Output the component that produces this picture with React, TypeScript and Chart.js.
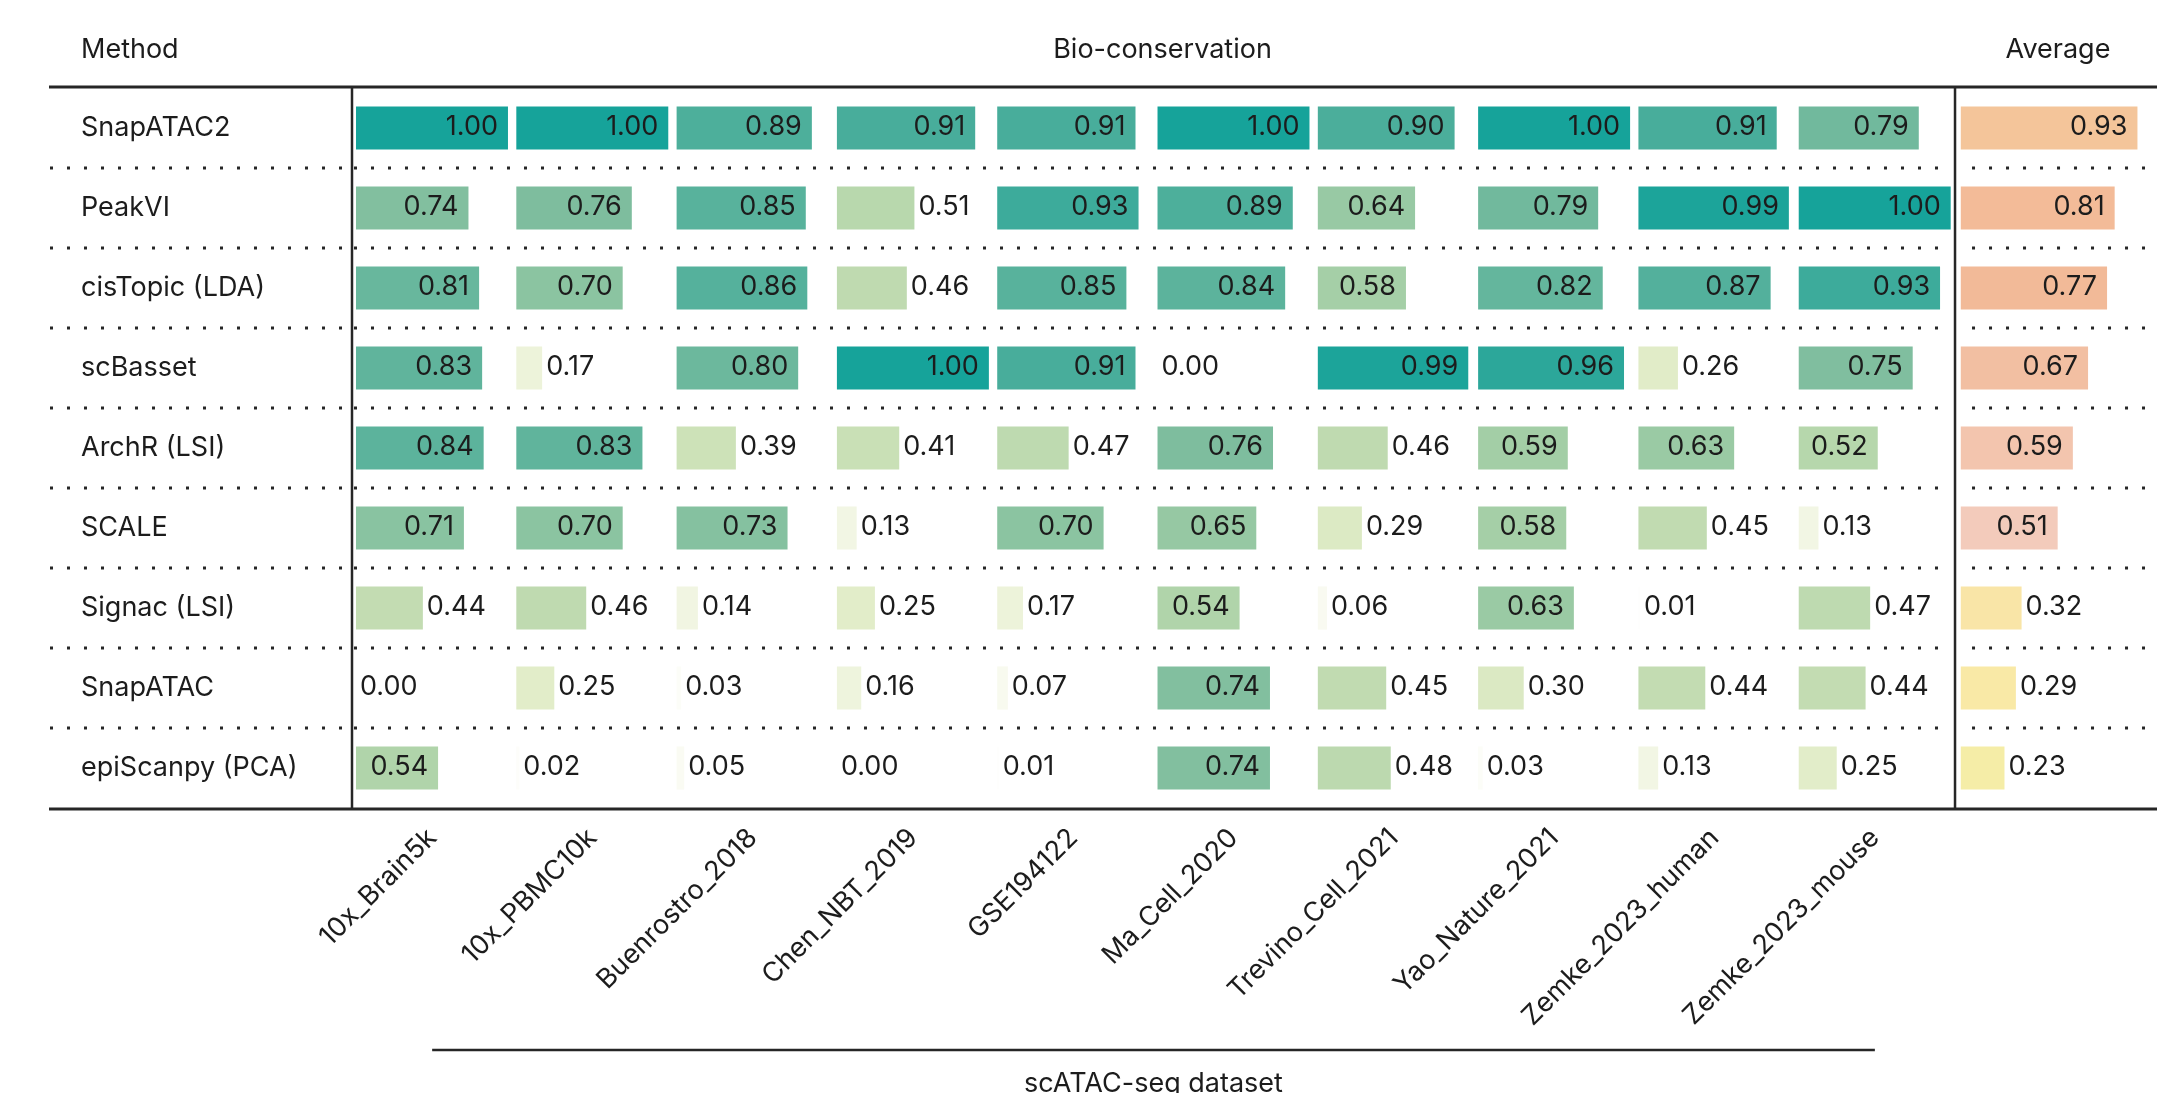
import { useEffect, useRef } from 'react';
import { Chart, registerables } from 'chart.js';

Chart.register(...registerables);

const methods = [
  'SnapATAC2', 'PeakVI', 'cisTopic (LDA)', 'scBasset', 'ArchR (LSI)',
  'SCALE', 'Signac (LSI)', 'SnapATAC', 'epiScanpy (PCA)',
];

const datasetNames = [
  '10x_Brain5k', '10x_PBMC10k', 'Buenrostro_2018', 'Chen_NBT_2019', 'GSE194122',
  'Ma_Cell_2020', 'Trevino_Cell_2021', 'Yao_Nature_2021', 'Zemke_2023_human', 'Zemke_2023_mouse',
];

// bio-conservation score per dataset, rows in the same order as methods
const brain5k = [1.0, 0.74, 0.81, 0.83, 0.84, 0.71, 0.44, 0.0, 0.54];
const pbmc10k = [1.0, 0.76, 0.7, 0.17, 0.83, 0.7, 0.46, 0.25, 0.02];
const buenrostro = [0.89, 0.85, 0.86, 0.8, 0.39, 0.73, 0.14, 0.03, 0.05];
const chenNbt = [0.91, 0.51, 0.46, 1.0, 0.41, 0.13, 0.25, 0.16, 0.0];
const gse194122 = [0.91, 0.93, 0.85, 0.91, 0.47, 0.7, 0.17, 0.07, 0.01];
const maCell = [1.0, 0.89, 0.84, 0.0, 0.76, 0.65, 0.54, 0.74, 0.74];
const trevino = [0.9, 0.64, 0.58, 0.99, 0.46, 0.29, 0.06, 0.45, 0.48];
const yaoNature = [1.0, 0.79, 0.82, 0.96, 0.59, 0.58, 0.63, 0.3, 0.03];
const zemkeHuman = [0.91, 0.99, 0.87, 0.26, 0.63, 0.45, 0.01, 0.44, 0.13];
const zemkeMouse = [0.79, 1.0, 0.93, 0.75, 0.52, 0.13, 0.47, 0.44, 0.25];
const average = [0.93, 0.81, 0.77, 0.67, 0.59, 0.51, 0.32, 0.29, 0.23];

const bioColumns = [
  brain5k, pbmc10k, buenrostro, chenNbt, gse194122,
  maCell, trevino, yaoNature, zemkeHuman, zemkeMouse,
];

// colour ramps (score -> colour)
const bioStops: [number, string][] = [
  [0.0, '#ffffff'], [0.05, '#fafbf3'], [0.13, '#f2f6e4'], [0.17, '#edf3da'],
  [0.25, '#e2edc9'], [0.39, '#cde2b8'], [0.45, '#c1dbb1'], [0.52, '#b6d7ac'],
  [0.58, '#a5cfa7'], [0.65, '#96c8a3'], [0.7, '#8bc4a1'], [0.76, '#7ebd9e'],
  [0.8, '#6cb89d'], [0.85, '#58b29c'], [0.91, '#48ad9b'], [1.0, '#16a39a'],
];
const avgStops: [number, string][] = [
  [0.2, '#f3eea6'], [0.25, '#f6eda7'], [0.3, '#fae8a6'], [0.35, '#f8e0a9'],
  [0.45, '#f4d2b5'], [0.51, '#f3cbbb'], [0.59, '#f3c5ae'], [0.67, '#f2bfa2'],
  [0.77, '#f2ba98'], [0.81, '#f3bb98'], [0.93, '#f4c59a'], [1.0, '#f4c99b'],
];

const FONT = 'Inter';
const INK = '#1c1c1c';
const RULE = '#262626';

// x scale is in "dataset column" units; the average column is a bit wider
const AVG_SPAN = 1.26;
const BAR_PAD = 0.025;
const BAR_FULL = 0.948;
const AVG_PAD = 0.036;
const AVG_FULL = 1.185;

function hexRgb(h: string) {
  const n = parseInt(h.slice(1), 16);
  return [(n >> 16) & 255, (n >> 8) & 255, n & 255];
}

function ramp(stops: [number, string][], v: number) {
  if (v <= stops[0][0]) return stops[0][1];
  for (let i = 1; i < stops.length; i++) {
    const [v1, c1] = stops[i];
    if (v <= v1) {
      const [v0, c0] = stops[i - 1];
      const t = (v - v0) / (v1 - v0);
      const a = hexRgb(c0), b = hexRgb(c1);
      const c = a.map((x, k) => Math.round(x + (b[k] - x) * t));
      return `rgb(${c[0]},${c[1]},${c[2]})`;
    }
  }
  return stops[stops.length - 1][1];
}

const scores = [...bioColumns, average];

const tablePlugin = {
  id: 'tableDecor',
  beforeDatasetsDraw(chart: any) {
    const { ctx, chartArea, scales } = chart;
    const { x, y } = scales;
    const avgLeft = x.getPixelForValue(10);
    ctx.save();
    ctx.strokeStyle = RULE;
    ctx.lineWidth = 3;
    ctx.setLineDash([3, 14]);
    const segs = [[50, chartArea.left - 10], [chartArea.left + 2, avgLeft - 8], [avgLeft + 17, 2145]];
    for (let r = 0; r < methods.length - 1; r++) {
      const yy = Math.round((y.getPixelForValue(r) + y.getPixelForValue(r + 1)) / 2);
      for (const [a, b] of segs) {
        ctx.beginPath();
        ctx.moveTo(a, yy);
        ctx.lineTo(b, yy);
        ctx.stroke();
      }
    }
    ctx.restore();
  },
  afterDatasetsDraw(chart: any) {
    const { ctx, chartArea, scales } = chart;
    const { x } = scales;
    ctx.save();
    ctx.font = `27px ${FONT}`;
    ctx.fillStyle = INK;
    ctx.textBaseline = 'alphabetic';
    chart.data.datasets.forEach((_: any, d: number) => {
      const meta = chart.getDatasetMeta(d);
      meta.data.forEach((el: any, r: number) => {
        const v = scores[d][r];
        const w = el.x - el.base;
        const txt = v.toFixed(2);
        if (w >= 78) {
          ctx.textAlign = 'right';
          ctx.fillText(txt, el.x - 10, el.y + 6.5);
        } else {
          ctx.textAlign = 'left';
          ctx.fillText(txt, el.x + 4, el.y + 6.5);
        }
      });
    });

    // table rules
    const avgLeft = x.getPixelForValue(10);
    ctx.strokeStyle = RULE;
    ctx.lineWidth = 3;
    ctx.beginPath();
    ctx.moveTo(49, chartArea.top - 1);
    ctx.lineTo(chartArea.right, chartArea.top - 1);
    ctx.moveTo(49, chartArea.bottom + 1);
    ctx.lineTo(chartArea.right, chartArea.bottom + 1);
    ctx.stroke();
    ctx.lineWidth = 2.5;
    ctx.beginPath();
    ctx.moveTo(chartArea.left, chartArea.top);
    ctx.lineTo(chartArea.left, chartArea.bottom);
    ctx.moveTo(avgLeft, chartArea.top);
    ctx.lineTo(avgLeft, chartArea.bottom);
    ctx.stroke();

    // header row
    ctx.textAlign = 'left';
    ctx.fillText('Method', 81, 58);
    ctx.textAlign = 'center';
    ctx.fillText('Bio-conservation', (chartArea.left + avgLeft) / 2 + 9, 58);
    ctx.fillText('Average', (avgLeft + chartArea.right) / 2 + 2, 58);

    // dataset bracket and title
    const x0 = x.getPixelForValue(0.5);
    const x1 = x.getPixelForValue(9.5);
    ctx.lineWidth = 2.5;
    ctx.beginPath();
    ctx.moveTo(x0, 1050);
    ctx.lineTo(x1, 1050);
    ctx.stroke();
    ctx.fillText('scATAC-seq dataset', (x0 + x1) / 2, 1092);
    ctx.restore();
  },
};

export default function App() {
  const ref = useRef<HTMLCanvasElement>(null);
  const chartRef = useRef<Chart | null>(null);

  useEffect(() => {
    if (!ref.current) return;

    const sets: any[] = bioColumns.map((vals, i) => ({
      label: datasetNames[i],
      data: vals.map((v) => [i + BAR_PAD, i + BAR_PAD + v * BAR_FULL]),
      backgroundColor: vals.map((v) => ramp(bioStops, v)),
    }));
    sets.push({
      label: 'Average',
      data: average.map((v) => [10 + AVG_PAD, 10 + AVG_PAD + v * AVG_FULL]),
      backgroundColor: average.map((v) => ramp(avgStops, v)),
    });

    chartRef.current?.destroy();
    chartRef.current = new Chart(ref.current, {
      type: 'bar',
      data: { labels: methods, datasets: sets },
      options: {
        indexAxis: 'y',
        responsive: true,
        maintainAspectRatio: false,
        animation: false,
        events: [],
        layout: { padding: { left: 81, top: 88, right: 10, bottom: 0 } },
        datasets: {
          bar: { grouped: false, barPercentage: 0.54, categoryPercentage: 1, borderWidth: 0 },
        },
        plugins: { legend: { display: false }, tooltip: { enabled: false } },
        scales: {
          y: {
            type: 'category',
            offset: true,
            grid: { display: false, drawTicks: false },
            border: { display: false },
            ticks: {
              crossAlign: 'far',
              padding: 0,
              labelOffset: 0,
              color: INK,
              font: { family: FONT, size: 27 },
            },
            afterFit: (s: any) => { s.width = 271; },
          },
          x: {
            type: 'linear',
            min: 0,
            max: 10 + AVG_SPAN,
            grid: { display: false, drawTicks: false },
            border: { display: false },
            afterBuildTicks: (s: any) => {
              s.ticks = datasetNames.map((_, i) => ({ value: i + 0.5 }));
            },
            ticks: {
              autoSkip: false,
              minRotation: 45,
              maxRotation: 45,
              padding: 14,
              color: INK,
              font: { family: FONT, size: 27 },
              callback: (_v: any, i: number) => datasetNames[i],
            },
            afterFit: (s: any) => { s.height = 285; },
          },
        },
      },
      plugins: [tablePlugin],
    });
    return () => { chartRef.current?.destroy(); };
  }, []);

  return (
    <div style={{ position: 'absolute', left: 0, top: 0, width: 2167, height: 1093, background: '#fff' }}>
      <canvas ref={ref} />
    </div>
  );
}
